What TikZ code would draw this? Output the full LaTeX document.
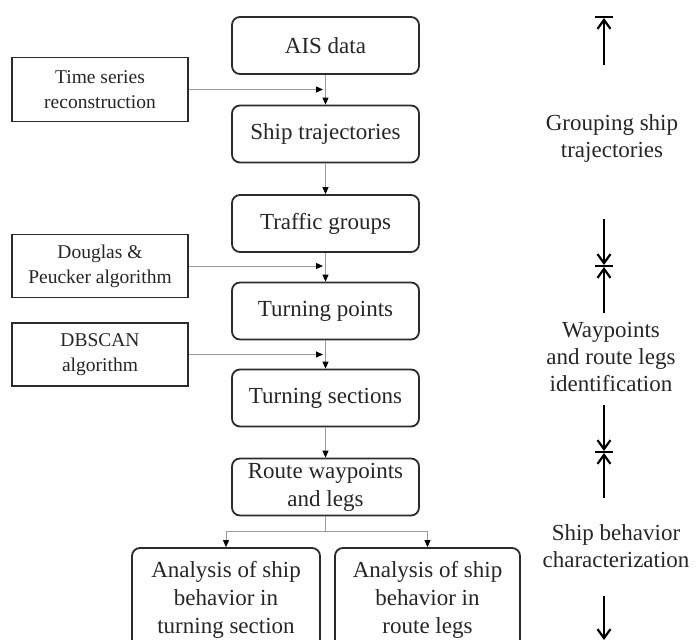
\documentclass[tikz,border=0pt]{standalone}
\usepackage{fontspec}
\setmainfont{Liberation Serif}
\usetikzlibrary{arrows.meta}
\definecolor{ink}{HTML}{262626}
\definecolor{boxline}{HTML}{2B2B2B}
\definecolor{flowgray}{HTML}{9A9A9A}
\begin{document}
\begin{tikzpicture}[x=1pt,y=-1pt,
  stage/.style={draw=boxline, line width=1.8pt, rounded corners=8pt, fill=white,
    minimum width=187pt, minimum height=57pt, inner sep=0pt, align=center,
    font=\fontsize{23}{28}\selectfont, text=ink},
  method/.style={draw=boxline, line width=1.8pt, fill=white,
    minimum width=176pt, minimum height=64pt, inner sep=0pt, align=center,
    font=\fontsize{19.5}{25}\selectfont, text=ink},
  phase/.style={inner sep=0pt, align=center, font=\fontsize{23}{27}\selectfont, text=ink},
  flow/.style={draw=flowgray, line width=0.9pt, -{Triangle[length=7pt,width=6pt,color=black]}},
  flowline/.style={draw=flowgray, line width=0.9pt},
  span/.style={draw=black, line width=2.6pt, -{Straight Barb[length=9pt,width=13pt,line width=2.2pt]}},
  spanbar/.style={draw=black, line width=2.4pt}
]
\useasboundingbox (0,0) rectangle (697,640);
\clip (0,0) rectangle (697,640);

% main processing chain
\node[stage] (ais)    at (325.5,45.5) {AIS data};
\node[stage] (traj)   at (325.5,134)  {Ship trajectories};
\node[stage] (groups) at (325.5,223.5){Traffic groups};
\node[stage] (tpts)   at (325.5,311)  {Turning points};
\node[stage] (tsec)   at (325.5,398)  {Turning sections};
\node[stage] (route)  at (325.5,487)  {Route waypoints\\and legs};
\node[stage, minimum width=188pt, minimum height=104pt] (bturn) at (226,600)
  {Analysis of ship\\behavior in\\turning section};
\node[stage, minimum width=185pt, minimum height=104pt] (blegs) at (427.5,600)
  {Analysis of ship\\behavior in\\route legs};

% methods feeding the chain
\node[method] (tsr) at (100,89.5)  {Time series\\reconstruction};
\node[method, minimum height=63pt] (dp)  at (100,266)   {Douglas \&\\Peucker algorithm};
\node[method, minimum height=63pt] (db)  at (100,354.5) {DBSCAN\\algorithm};

% vertical flow
\draw[flow] (ais) -- (traj);
\draw[flow] (traj) -- (groups);
\draw[flow] (groups) -- (tpts);
\draw[flow] (tpts) -- (tsec);
\draw[flow] (tsec) -- (route);

% method inputs
\coordinate (tsrin) at (323,89.5);
\coordinate (dpin)  at (323,266);
\coordinate (dbin)  at (323,354.5);
\draw[flow] (tsr.east) -- (tsrin);
\draw[flow] (dp.east) -- (dpin);
\draw[flow] (db.east) -- (dbin);

% split into the two analyses
\coordinate (split) at (325.5,531);
\draw[flowline] (route.south) -- (split);
\draw[flow] (split) -| (bturn.north);
\draw[flow] (split) -| (blegs.north);

% phase brackets on the right
\draw[spanbar] (595,17) -- (613,17);
\draw[span] (604,65) -- (604,18);
\node[phase] (p1) at (612,138) {Grouping ship\\trajectories};
\draw[span] (604,219) -- (604,265);
\draw[spanbar] (595,266) -- (613,266);
\draw[span] (604,313) -- (604,267);
\node[phase] (p2) at (611,357) {Waypoints\\and route legs\\identification};
\draw[span] (604,405) -- (604,451);
\draw[spanbar] (595,452) -- (613,452);
\draw[span] (604,498) -- (604,453);
\node[phase] (p3) at (616,546) {Ship behavior\\characterization};
\draw[span] (604,596) -- (604,640);
\end{tikzpicture}
\end{document}
